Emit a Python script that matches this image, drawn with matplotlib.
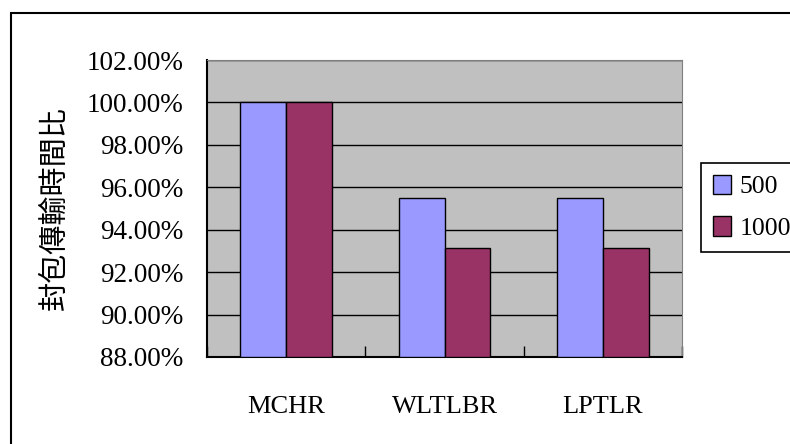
import matplotlib
matplotlib.use('Agg')
from matplotlib import pyplot as plt
from matplotlib.patches import Rectangle

# data
categories = ['MCHR', 'WLTLBR', 'LPTLR']
series_names = ['500', '1000']
vals_500 = [100.0, 95.5, 95.5]
vals_1000 = [100.0, 93.15, 93.15]
yticks = [88, 90, 92, 94, 96, 98, 100, 102]

plt.rcParams['font.family'] = ['Liberation Serif', 'DejaVu Serif']

fig = plt.figure(figsize=(7.9, 4.44), dpi=100)
ax = fig.add_axes([207/790, 1 - 357/444, 475/790, 297/444])
ax.set_facecolor('#C0C0C0')

# outer chart frame (runs off right/bottom)
fig.patches.append(Rectangle((11/790, -0.1), 1.2, 1 - 13/444 + 0.1,
                             transform=fig.transFigure, fill=False,
                             edgecolor='black', linewidth=1.5, zorder=0))

w = 0.29
x = [i + 0.5 for i in range(len(categories))]
ax.bar([p - w/2 for p in x], [v - 88 for v in vals_500], bottom=88, width=w,
       color='#9999FF', edgecolor='black', linewidth=1, label=series_names[0], zorder=3)
ax.bar([p + w/2 for p in x], [v - 88 for v in vals_1000], bottom=88, width=w,
       color='#993366', edgecolor='black', linewidth=1, label=series_names[1], zorder=3)

ax.set_xlim(0, 3)
ax.set_ylim(88, 102)
ax.set_yticks(yticks)
ax.set_yticklabels(['%.2f%%' % t for t in yticks])
ax.yaxis.grid(True, color='black', linewidth=1, zorder=1)
ax.set_axisbelow(True)

ax.set_xticks([0, 1, 2, 3])
ax.set_xticklabels([])
ax.set_xticks(x, minor=True)
ax.set_xticklabels(categories, minor=True)
ax.tick_params(axis='x', which='major', direction='in', length=8, width=1, color='black')
ax.tick_params(axis='x', which='minor', length=0, pad=28, labelsize=19)
ax.tick_params(axis='y', direction='in', length=0, pad=17, labelsize=19.5)

for s in ['top', 'right']:
    ax.spines[s].set_color('#808080')
for s in ['left', 'bottom']:
    ax.spines[s].set_color('black')
    ax.spines[s].set_linewidth(1.5)

ax.set_ylabel('封包傳輸時間比', family=['Noto Sans CJK TC', 'DejaVu Sans'],
              fontsize=21, labelpad=12)

leg = ax.legend(loc='upper left', bbox_to_anchor=(701/790, 1 - 163/444),
                bbox_transform=fig.transFigure, fontsize=18.5, fancybox=False,
                edgecolor='black', framealpha=1, borderpad=0.45,
                handlelength=0.7, handleheight=0.8, handletextpad=0.35,
                labelspacing=0.7, borderaxespad=0)
leg.get_frame().set_linewidth(1.2)

fig.savefig('out.png', dpi=100)
